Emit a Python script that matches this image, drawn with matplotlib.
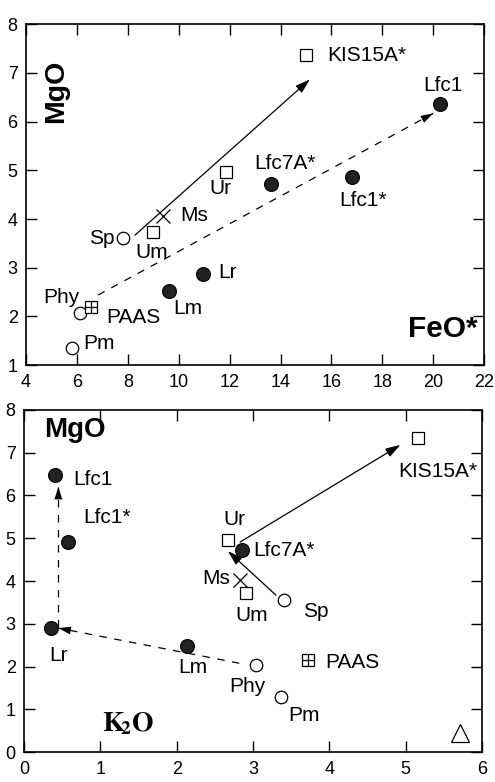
import matplotlib
matplotlib.use("Agg")
import matplotlib.pyplot as plt

plt.rcParams['font.family'] = ['Liberation Sans', 'DejaVu Sans']
plt.rcParams['mathtext.fontset'] = 'stix'

# ---------------- data ----------------
samples = ['KIS15A*', 'Lfc1', 'Lfc7A*', 'Lfc1*', 'Ur', 'Ms', 'Um', 'Sp', 'Lr', 'Lm', 'Phy', 'PAAS', 'Pm']
kinds   = ['sq', 'fc', 'fc', 'fc', 'sq', 'x', 'sq', 'oc', 'fc', 'fc', 'oc', 'sqp', 'oc']
feo     = [15.0, 20.27, 13.63, 16.81, 11.86, 9.39, 8.99, 7.81, 10.96, 9.62, 6.12, 6.56, 5.81]
mgo_top = [7.36, 6.36, 4.71, 4.86, 4.96, 4.06, 3.73, 3.61, 2.87, 2.52, 2.07, 2.19, 1.35]
k2o     = [5.16, 0.41, 2.86, 0.58, 2.67, 2.83, 2.91, 3.41, 0.35, 2.14, 3.04, 3.72, 3.37]
mgo_bot = [7.35, 6.48, 4.73, 4.91, 4.96, 4.02, 3.72, 3.56, 2.90, 2.48, 2.04, 2.15, 1.29]
triangle_k2o, triangle_mgo = [5.71], [0.44]

# arrows (start, end)
top_solid = [(8.28, 3.67), (15.16, 6.87)]
top_dash  = [(6.83, 2.44), (20.0, 6.17)]
bot_solid1 = [(2.83, 4.91), (4.93, 7.18)]
bot_solid2 = [(3.30, 3.67), (2.67, 4.70)]
bot_dash1 = [(2.82, 2.08), (0.45, 2.90)]
bot_dash2 = [(0.45, 2.92), (0.45, 6.20)]

top_xticks = [4, 6, 8, 10, 12, 14, 16, 18, 20, 22]
top_yticks = [1, 2, 3, 4, 5, 6, 7, 8]
bot_xticks = [0, 1, 2, 3, 4, 5, 6]
bot_yticks = [0, 1, 2, 3, 4, 5, 6, 7, 8]

# label offsets in pixels (dx, dy, ha)
top_off = {'KIS15A*': (21, 0, 'left'), 'Lfc1': (3, 19, 'center'), 'Lfc7A*': (14, 21, 'center'),
           'Lfc1*': (11, -23, 'center'), 'Ur': (-6, -16, 'center'), 'Ms': (17, 1, 'left'),
           'Um': (-1, -20, 'center'), 'Sp': (-8, 0, 'right'), 'Lr': (15, 2, 'left'),
           'Lm': (4, -17, 'left'), 'Phy': (-19, 16, 'center'), 'PAAS': (15, -10, 'left'),
           'Pm': (11, 5, 'left')}
bot_off = {'KIS15A*': (20, -34, 'center'), 'Lfc1': (18, -5, 'left'), 'Lfc1*': (15, 25, 'left'),
           'Ur': (7, 20, 'center'), 'Lfc7A*': (11, -1, 'left'), 'Ms': (-10, 2, 'right'),
           'Um': (5, -22, 'center'), 'Sp': (19, -12, 'left'), 'Lr': (8, -27, 'center'),
           'Lm': (5, -21, 'center'), 'Phy': (-9, -22, 'center'), 'PAAS': (17, -2, 'left'),
           'Pm': (7, -18, 'left')}

FS = 15
TFS = 13
LW = 0.9

def draw_marker(ax, x, y, kind):
    if kind == 'sq':
        ax.plot(x, y, 's', ms=8.5, mfc='white', mec='black', mew=0.9, zorder=5)
    elif kind == 'fc':
        ax.plot(x, y, 'o', ms=10, mfc='#222222', mec='black', mew=0.8, zorder=5)
    elif kind == 'oc':
        ax.plot(x, y, 'o', ms=9, mfc='white', mec='black', mew=0.9, zorder=5)
    elif kind == 'x':
        ax.plot(x, y, 'x', ms=10, mec='black', mew=0.9, zorder=5)
    elif kind == 'sqp':
        ax.plot(x, y, 's', ms=8, mfc='white', mec='black', mew=0.9, zorder=5)
        ax.plot(x, y, '+', ms=8, mec='black', mew=0.9, zorder=6)

def arrow(ax, seg, dashed=False):
    (x0, y0), (x1, y1) = seg
    if dashed:
        ax.plot([x0, x1], [y0, y1], ls=(0, (6, 6)), color='black', lw=LW, zorder=3)
        fx = x0 + (x1 - x0) * 0.9
        fy = y0 + (y1 - y0) * 0.9
        ax.annotate('', xy=(x1, y1), xytext=(fx, fy),
                    arrowprops=dict(arrowstyle='-|>,head_length=0.9,head_width=0.28',
                                    color='black', lw=0.01, shrinkA=0, shrinkB=0), zorder=4)
    else:
        ax.annotate('', xy=(x1, y1), xytext=(x0, y0),
                    arrowprops=dict(arrowstyle='-|>,head_length=0.9,head_width=0.28',
                                    color='black', lw=LW, shrinkA=0, shrinkB=0), zorder=4)

def style(ax, xt, yt):
    ax.set_xticks(xt)
    ax.set_yticks(yt)
    ax.set_xticklabels([str(v) for v in xt])
    ax.set_yticklabels([str(v) for v in yt])
    ax.tick_params(direction='in', length=8, width=1.0, top=True, right=True,
                   labelsize=TFS, pad=6)
    for s in ax.spines.values():
        s.set_linewidth(1.2)

fig = plt.figure(figsize=(4.95, 7.82), dpi=100)

# ---------------- top panel ----------------
ax1 = fig.add_axes([0.0525, 0.533, 0.9255, 0.436])
ax1.set_xlim(4, 22)
ax1.set_ylim(1, 8)
style(ax1, top_xticks, top_yticks)
arrow(ax1, top_solid)
arrow(ax1, top_dash, dashed=True)
for n, k, x, y in zip(samples, kinds, feo, mgo_top):
    draw_marker(ax1, x, y, k)
    dx, dy, ha = top_off[n]
    ax1.annotate(n, (x, y), xytext=(dx, dy), textcoords='offset pixels',
                 ha=ha, va='center', fontsize=FS)
ax1.text(0.0655, 0.804, 'MgO', transform=ax1.transAxes, rotation=90, fontsize=20.5,
         fontweight='bold', ha='center', va='center')
ax1.text(0.91, 0.106, 'FeO*', transform=ax1.transAxes, fontsize=21.5,
         fontweight='bold', ha='center', va='center')

# ---------------- bottom panel ----------------
ax2 = fig.add_axes([0.0485, 0.038, 0.9255, 0.438])
ax2.set_xlim(0, 6)
ax2.set_ylim(0, 8)
style(ax2, bot_xticks, bot_yticks)
arrow(ax2, bot_solid1)
arrow(ax2, bot_solid2)
arrow(ax2, bot_dash1, dashed=True)
arrow(ax2, bot_dash2, dashed=True)
for n, k, x, y in zip(samples, kinds, k2o, mgo_bot):
    draw_marker(ax2, x, y, k)
    dx, dy, ha = bot_off[n]
    ax2.annotate(n, (x, y), xytext=(dx, dy), textcoords='offset pixels',
                 ha=ha, va='center', fontsize=FS)
ax2.plot(triangle_k2o, triangle_mgo, '^', ms=13, mfc='white', mec='black', mew=0.9)
ax2.text(0.111, 0.94, 'MgO', transform=ax2.transAxes, fontsize=20,
         fontweight='bold', ha='center', va='center')
ax2.text(0.227, 0.085, r'$\mathbf{K\!_2O}$', transform=ax2.transAxes, fontsize=20,
         ha='center', va='center')

fig.savefig('out.png', dpi=100)
